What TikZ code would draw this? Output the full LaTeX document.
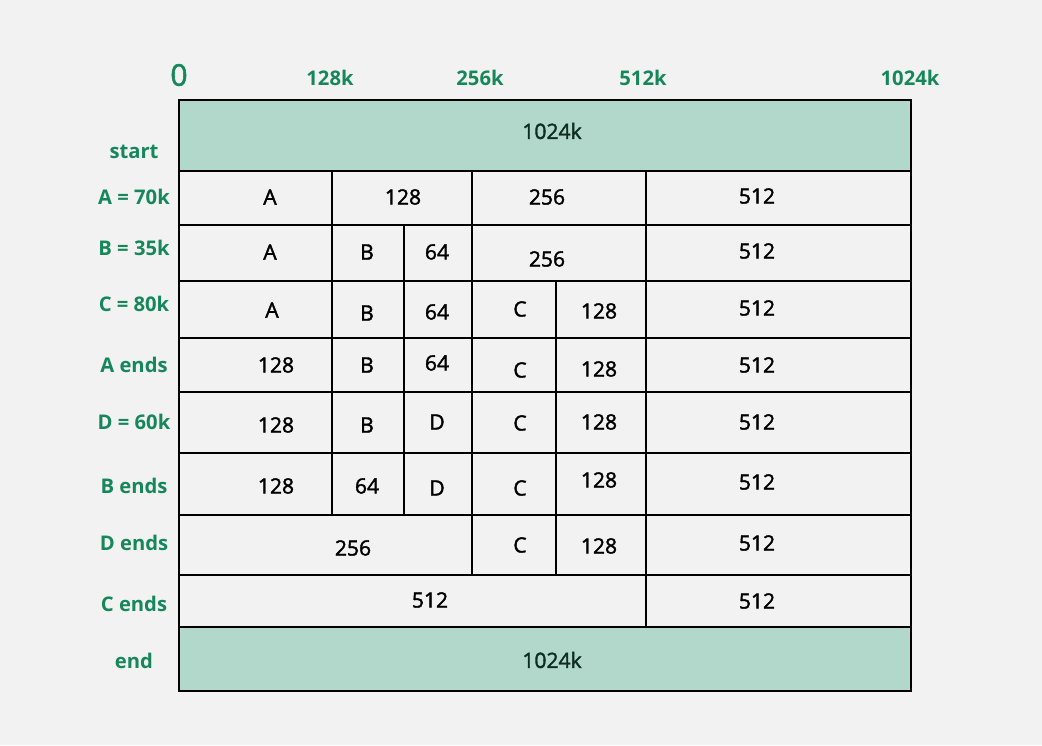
\documentclass[tikz,border=0pt]{standalone}
\usepackage{fontspec}
\setmainfont{Open Sans}
\newfontfamily\semibold[FakeBold=1.8]{Open Sans}
\usetikzlibrary{positioning}
\definecolor{bggray}{HTML}{F2F2F2}
\definecolor{lblgreen}{HTML}{16875A}
\definecolor{freegreen}{HTML}{B2D8CB}
\definecolor{darkgreen}{HTML}{0E2E22}

\begin{document}
\begin{tikzpicture}[x=0.02cm, y=-0.02cm,
    cell/.style={draw=black, line width=1.1pt},
    whole/.style={cell, fill=freegreen},
    celltext/.style={font=\semibold\fontsize{12}{14}\selectfont, text=black},
    rowlabel/.style={font=\bfseries\fontsize{11.5}{14}\selectfont, text=lblgreen},
    toplabel/.style={font=\bfseries\fontsize{11.5}{14}\selectfont, text=lblgreen}]
    \useasboundingbox[fill=bggray] (0,0) rectangle (1042,745);
    % Top scale
    \node[toplabel, font=\semibold\fontsize{17}{19}\selectfont] (t0) at (179,75) {0};
    \foreach \n/\x/\t in {t1/330/128k, t2/480/256k, t3/643/512k, t4/910/1024k}
        \node[toplabel] (\n) at (\x,78) {\t};
    % Row labels
    \foreach \n/\y/\t in {lstart/152/start, la/197/A = 70k, lb/248/B = 35k, lc/304/C = 80k,
        lae/365/A ends, ld/422/D = 60k, lbe/486/B ends, lde/543/D ends, lce/604/C ends, lend/661/end}
        \node[rowlabel] (\n) at (134,\y) {\t};
    % start
    \draw[whole] (179,100) rectangle (911,171);
    \node[celltext, text=darkgreen] (s1) at (552,131) {1024k};
    % A = 70k
    \foreach \n/\l/\r/\tx/\ty/\t in {a1/179/332/270/197/A, a2/332/472/403/197/128,
        a3/472/646/547/197/256, a4/646/911/757/196/512} {
        \draw[cell] (\l,171) rectangle (\r,225);
        \node[celltext] (\n) at (\tx,\ty) {\t};
    }
    % B = 35k
    \foreach \n/\l/\r/\tx/\ty/\t in {b1/179/332/270/252/A, b2/332/404/367/252/B, b3/404/472/437/252/64,
        b4/472/646/547/259/256, b5/646/911/757/251/512} {
        \draw[cell] (\l,225) rectangle (\r,281);
        \node[celltext] (\n) at (\tx,\ty) {\t};
    }
    % C = 80k
    \foreach \n/\l/\r/\tx/\ty/\t in {c1/179/332/272/310/A, c2/332/404/367/313/B, c3/404/472/437/312/64,
        c4/472/556/520/309/C, c5/556/646/599/311/128, c6/646/911/757/308/512} {
        \draw[cell] (\l,281) rectangle (\r,338);
        \node[celltext] (\n) at (\tx,\ty) {\t};
    }
    % A ends
    \foreach \n/\l/\r/\tx/\ty/\t in {ae1/179/332/276/365/128, ae2/332/404/367/365/B, ae3/404/472/437/363/64,
        ae4/472/556/520/370/C, ae5/556/646/599/369/128, ae6/646/911/757/365/512} {
        \draw[cell] (\l,338) rectangle (\r,392);
        \node[celltext] (\n) at (\tx,\ty) {\t};
    }
    % D = 60k
    \foreach \n/\l/\r/\tx/\ty/\t in {d1/179/332/276/425/128, d2/332/404/367/425/B, d3/404/472/437/422/D,
        d4/472/556/520/423/C, d5/556/646/599/422/128, d6/646/911/757/422/512} {
        \draw[cell] (\l,392) rectangle (\r,453);
        \node[celltext] (\n) at (\tx,\ty) {\t};
    }
    % B ends
    \foreach \n/\l/\r/\tx/\ty/\t in {be1/179/332/276/486/128, be2/332/404/367/486/64, be3/404/472/437/488/D,
        be4/472/556/520/488/C, be5/556/646/599/480/128, be6/646/911/757/482/512} {
        \draw[cell] (\l,453) rectangle (\r,515);
        \node[celltext] (\n) at (\tx,\ty) {\t};
    }
    % D ends
    \foreach \n/\l/\r/\tx/\ty/\t in {de1/179/472/353/548/256, de2/472/556/520/545/C,
        de3/556/646/599/546/128, de4/646/911/757/543/512} {
        \draw[cell] (\l,515) rectangle (\r,575);
        \node[celltext] (\n) at (\tx,\ty) {\t};
    }
    % C ends
    \foreach \n/\l/\r/\tx/\ty/\t in {ce1/179/646/430/600/512, ce2/646/911/757/601/512} {
        \draw[cell] (\l,575) rectangle (\r,627);
        \node[celltext] (\n) at (\tx,\ty) {\t};
    }
    % end
    \draw[whole] (179,627) rectangle (911,691);
    \node[celltext, text=darkgreen] (e1) at (552,660) {1024k};
\end{tikzpicture}
\end{document}
